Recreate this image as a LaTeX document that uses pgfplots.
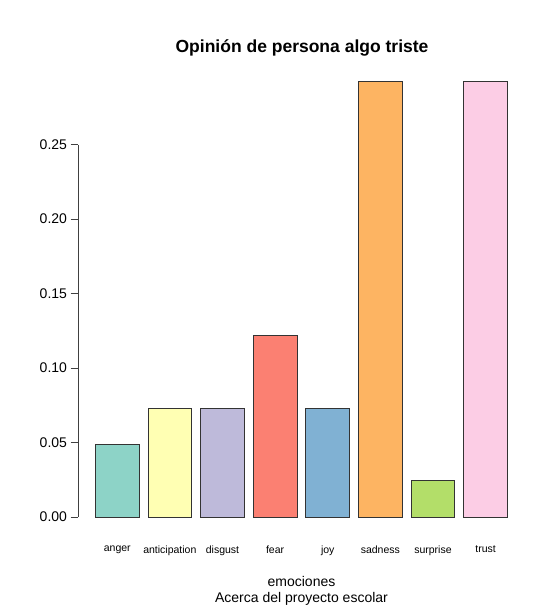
\documentclass[border=0pt]{standalone}
\usepackage{fontspec}
\setmainfont{Liberation Sans}
\usepackage{pgfplots}
\pgfplotsset{compat=1.18}
\definecolor{s1}{HTML}{8DD3C7}
\definecolor{s2}{HTML}{FFFFB3}
\definecolor{s3}{HTML}{BEBADA}
\definecolor{s4}{HTML}{FB8072}
\definecolor{s5}{HTML}{80B1D3}
\definecolor{s6}{HTML}{FDB462}
\definecolor{s7}{HTML}{B3DE69}
\definecolor{s8}{HTML}{FCCDE5}
\begin{document}
\begin{tikzpicture}[x=1pt,y=1pt]
\path[use as bounding box] (0,0) rectangle (560,606);
\begin{axis}[
    at={(78.5pt,71.6pt)}, anchor=south west,
    width=454.6pt, height=470.8pt, scale only axis,
    xmin=-0.184, xmax=10.184, ymin=-0.011707, ymax=0.30439,
    axis x line=bottom, axis y line=left,
    x axis line style={draw=none}, y axis line style={draw=none},
    clip=false,
    ybar, bar width=1, bar shift=0pt,
    every axis plot/.append style={draw=black!80, line width=0.8pt},
    xtick={0.7,1.9,3.1,4.3,5.5,6.7,7.9,9.1},
    xticklabels={anger,anticipation,disgust,fear,joy,sadness,surprise,trust},
    major x tick style={draw=none},
    x tick label style={font=\fontsize{10.5}{12}\selectfont, yshift=0pt},
    ytick={0,0.05,0.10,0.15,0.20,0.25},
    tick align=outside, major tick length=8pt,
    major y tick style={black!75, line width=0.8pt},
    y tick label style={font=\fontsize{14}{16}\selectfont},
    yticklabel style={/pgf/number format/.cd, fixed, fixed zerofill, precision=2, assume math mode=true},
]
\addplot[fill=s1] coordinates {(0.7,0.04878)};
\addplot[fill=s2] coordinates {(1.9,0.07317)};
\addplot[fill=s3] coordinates {(3.1,0.07317)};
\addplot[fill=s4] coordinates {(4.3,0.12195)};
\addplot[fill=s5] coordinates {(5.5,0.07317)};
\addplot[fill=s6] coordinates {(6.7,0.29268)};
\addplot[fill=s7] coordinates {(7.9,0.02439)};
\addplot[fill=s8] coordinates {(9.1,0.29268)};
\draw[black!75, line width=0.8pt] (axis cs:-0.184,0) -- (axis cs:-0.184,0.25);
\end{axis}
\node[font=\bfseries\fontsize{17.5}{20}\selectfont] at (302,558) {Opinión de persona algo triste};
\node[font=\fontsize{14}{16}\selectfont] at (301.5,25) {emociones};
\node[font=\fontsize{14}{16}\selectfont] at (301.5,7) {Acerca del proyecto escolar};
\end{tikzpicture}
\end{document}
